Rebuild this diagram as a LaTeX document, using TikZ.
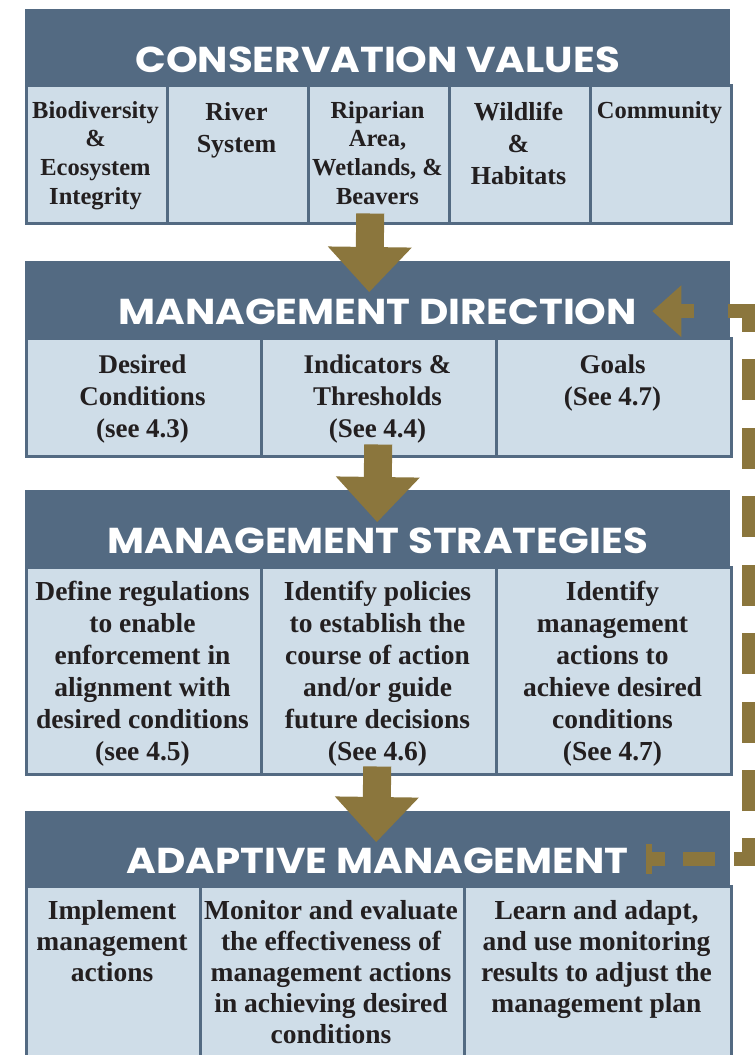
\documentclass[tikz,border=0pt]{standalone}
\usepackage{graphicx}
\usepackage{fontspec}
\setmainfont{Liberation Serif}
\newfontfamily\headfont{Poppins}
\usetikzlibrary{arrows.meta,calc}
\definecolor{slate}{HTML}{536A82}
\definecolor{cellblue}{HTML}{CFDDE8}
\definecolor{gold}{HTML}{8B763D}
\definecolor{ink}{HTML}{231F20}
% wide heading lettering
\newcommand{\headline}[1]{\scalebox{1.12}[1]{#1}}

\begin{document}
\begin{tikzpicture}[x=1pt,y=-1pt,
  hdr/.style={fill=slate, draw=none, inner sep=0pt, minimum width=705pt, anchor=north west},
  hdrtext/.style={text=white, font=\headfont\bfseries\fontsize{36}{40}\selectfont, inner sep=0pt, anchor=base},
  cell/.style={fill=cellblue, draw=slate, line width=2.5pt, inner sep=0pt, anchor=north west},
  celltext/.style={text=ink, align=center, inner sep=0pt, anchor=north},
  fsA/.style={font=\bfseries\fontsize{24.5}{28.7}\selectfont},
  fsB/.style={font=\bfseries\fontsize{26}{32}\selectfont},
  fsC/.style={font=\bfseries\fontsize{27}{32}\selectfont},
  fsD/.style={font=\bfseries\fontsize{27.5}{32}\selectfont},
  fsE/.style={font=\bfseries\fontsize{27.5}{31}\selectfont},
  flow/.style={draw=gold, line width=28pt, line cap=butt,
    -{Triangle[length=45pt,width=84pt,line width=0pt]}},
  feedback/.style={draw=gold, line width=14pt, line cap=butt, line join=miter,
    dash pattern={on 19pt off 18pt on 32pt off 19pt on 36pt off 27pt
      on 41pt off 27.5pt on 41pt off 27.5pt on 41pt off 27.5pt on 41pt off 27.5pt
      on 41pt off 27.5pt on 41pt off 27.5pt on 41pt off 27.5pt
      on 42pt off 34pt on 60pt off 10pt},
    -{Triangle[length=29pt,width=52pt,line width=0pt]}},
]
\useasboundingbox (0,0) rectangle (755,1055);

% ---------- Conservation values ----------
\node[hdr, minimum height=75pt] (b1h) at (25,9) {};
\node[hdrtext] (b1t) at ($(b1h.south)+(0,-12)$) {\headline{CONSERVATION VALUES}};
\node[cell, minimum width=141pt, minimum height=138pt] (b1c1) at (25,84) {};
\node[cell, minimum width=141pt, minimum height=138pt] (b1c2) at (166,84) {};
\node[cell, minimum width=141pt, minimum height=138pt] (b1c3) at (307,84) {};
\node[cell, minimum width=141pt, minimum height=138pt] (b1c4) at (448,84) {};
\node[cell, minimum width=141pt, minimum height=138pt] (b1c5) at (589,84) {};
\node[celltext, fsA] (b1t1) at (95.5,97.9) {\strut Biodiversity\\\&\\Ecosystem\\Integrity};
\node[celltext, fsB] (b1t2) at (236.5,97.6) {\strut River\\System};
\node[celltext, fsA] (b1t3) at (377.5,97.9) {\strut Riparian\\Area,\\Wetlands, \&\\Beavers};
\node[celltext, fsB] (b1t4) at (518.5,97.6) {\strut Wildlife\\\&\\Habitats};
\node[celltext, fsA] (b1t5) at (659.5,97.9) {\strut Community};

% ---------- Management direction ----------
\node[hdr, minimum height=76pt] (b2h) at (25,261) {};
\node[hdrtext] (b2t) at ($(b2h.south)+(0,-12.5)$) {\headline{MANAGEMENT DIRECTION}};
\node[cell, minimum width=235pt, minimum height=118pt] (b2c1) at (25,337) {};
\node[cell, minimum width=235pt, minimum height=118pt] (b2c2) at (260,337) {};
\node[cell, minimum width=235pt, minimum height=118pt] (b2c3) at (495,337) {};
\node[celltext, fsC] (b2t1) at (142.5,351.2) {\strut Desired\\Conditions\\(see 4.3)};
\node[celltext, fsC] (b2t2) at (377.5,351.2) {\strut Indicators \&\\Thresholds\\(See 4.4)};
\node[celltext, fsC] (b2t3) at (612.5,351.2) {\strut Goals\\(See 4.7)};

% ---------- Management strategies ----------
\node[hdr, minimum height=76pt] (b3h) at (25,490) {};
\node[hdrtext] (b3t) at ($(b3h.south)+(0,-13)$) {\headline{MANAGEMENT STRATEGIES}};
\node[cell, minimum width=235pt, minimum height=207pt] (b3c1) at (25,566) {};
\node[cell, minimum width=235pt, minimum height=207pt] (b3c2) at (260,566) {};
\node[cell, minimum width=235pt, minimum height=207pt] (b3c3) at (495,566) {};
\node[celltext, fsD] (b3t1) at (142.5,577.6) {\strut Define regulations\\to enable\\enforcement in\\alignment with\\desired conditions\\(see 4.5)};
\node[celltext, fsD] (b3t2) at (377.5,577.6) {\strut Identify policies\\to establish the\\course of action\\and/or guide\\future decisions\\(See 4.6)};
\node[celltext, fsD] (b3t3) at (612.5,577.6) {\strut Identify\\management\\actions to\\achieve desired\\conditions\\(See 4.7)};

% ---------- Adaptive management ----------
\node[hdr, minimum height=74pt] (b4h) at (25,811) {};
\node[hdrtext] (b4t) at ($(b4h.south)+(0,-12)$) {\headline{ADAPTIVE MANAGEMENT}};
\node[cell, minimum width=174pt, minimum height=175pt] (b4c1) at (25,885) {};
\node[cell, minimum width=264pt, minimum height=175pt] (b4c2) at (199,885) {};
\node[cell, minimum width=267pt, minimum height=175pt] (b4c3) at (463,885) {};
\node[celltext, fsE] (b4t1) at (112,898) {\strut Implement\\management\\actions};
\node[celltext, fsE] (b4t2) at (331,898) {\strut Monitor and evaluate\\the effectiveness of\\management actions\\in achieving desired\\conditions};
\node[celltext, fsE] (b4t3) at (596.5,898) {\strut Learn and adapt,\\and use monitoring\\results to adjust the\\management plan};

% ---------- Flow arrows between the stages ----------
\draw[flow] ($(b1c3.south)+(-8.5,-11)$) -- ($(b2h.north)+(-8.5,31)$);
\draw[flow] ($(b2c2.south)+(-0.5,-13)$) -- ($(b3h.north)+(-0.5,32)$);
\draw[flow] ($(b3c2.south)+(-1.5,-9)$) -- ($(b4h.north)+(-1.5,31)$);

% ---------- Feedback loop back to management direction ----------
\coordinate (fbstart) at ($(b4h.east)+(-84,11)$);
\coordinate (fbend) at ($(b2h.east)+(-78,12)$);
\fill[gold] ($(fbstart)+(0,-15)$) rectangle ($(fbstart)+(6,15)$);
\draw[feedback] (fbstart) -- ++(103,0) |- (fbend);
\end{tikzpicture}
\end{document}
